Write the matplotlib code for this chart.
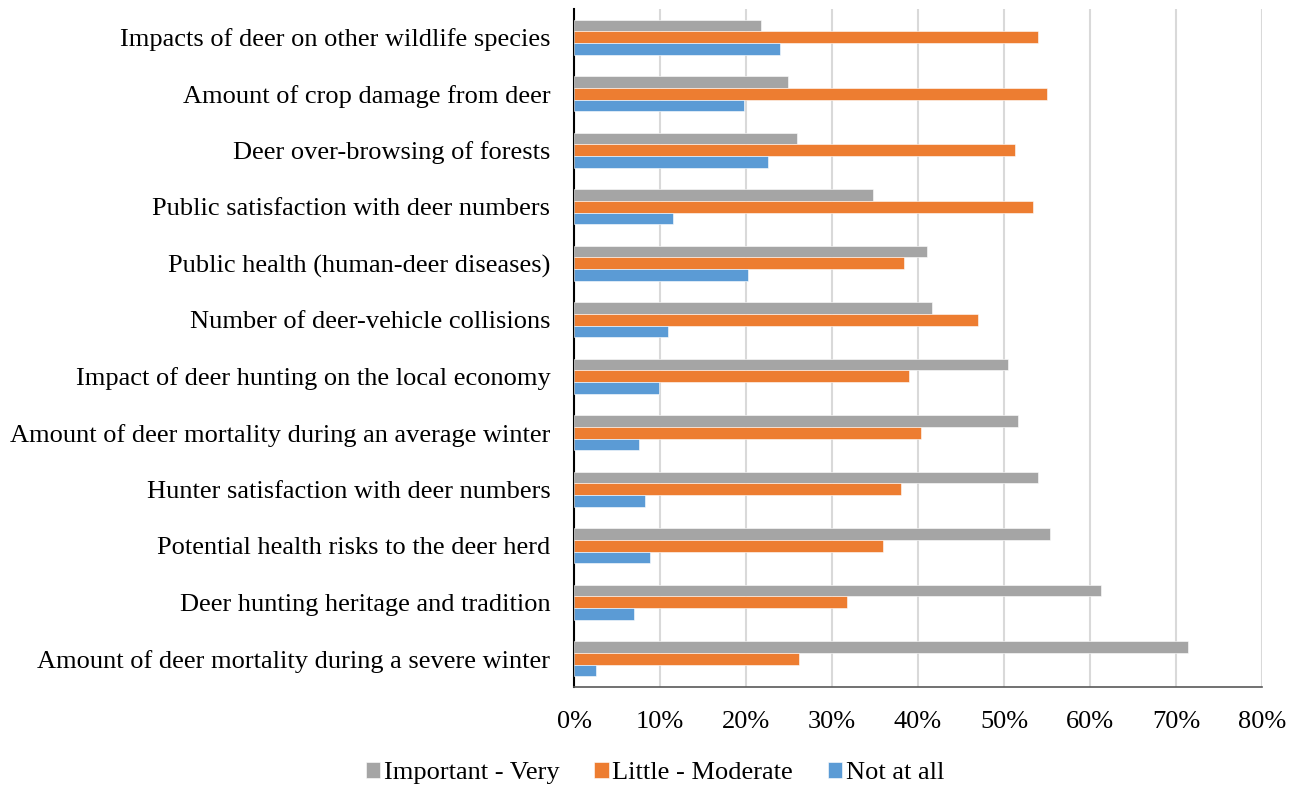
import matplotlib
matplotlib.use("Agg")
import matplotlib.pyplot as plt
import numpy as np
from matplotlib.ticker import FuncFormatter

categories = [
    "Impacts of deer on other wildlife species",
    "Amount of crop damage from deer",
    "Deer over-browsing of forests",
    "Public satisfaction with deer numbers",
    "Public health (human-deer diseases)",
    "Number of deer-vehicle collisions",
    "Impact of deer hunting on the local economy",
    "Amount of deer mortality during an average winter",
    "Hunter satisfaction with deer numbers",
    "Potential health risks to the deer herd",
    "Deer hunting heritage and tradition",
    "Amount of deer mortality during a severe winter",
]
important_very = [21.8, 24.9, 25.9, 34.8, 41.1, 41.6, 50.5, 51.6, 54.0, 55.4, 61.3, 71.4]
little_moderate = [54.0, 55.0, 51.3, 53.4, 38.4, 47.0, 39.0, 40.4, 38.0, 35.9, 31.8, 26.2]
not_at_all = [23.9, 19.8, 22.5, 11.5, 20.2, 10.9, 9.9, 7.6, 8.3, 8.8, 7.0, 2.5]
series_names = ["Important - Very", "Little - Moderate", "Not at all"]
colors = ["#A5A5A5", "#ED7D31", "#5B9BD5"]
xticks = [0, 10, 20, 30, 40, 50, 60, 70, 80]

plt.rcParams['font.family'] = ['Liberation Serif', 'DejaVu Serif']
FS = 19

fig = plt.figure(figsize=(12.94, 7.87), dpi=100)
ax = fig.add_axes([574/1294, 1-687/787, (1262-574)/1294, (687-9)/787])

n = len(categories)
y = np.arange(n)[::-1]  # first category at top
h = 0.205
data = [important_very, little_moderate, not_at_all]
offsets = [h, 0, -h]
for vals, c, off, name in zip(data, colors, offsets, series_names):
    ax.barh(y + off, vals, height=h, color=c, label=name, zorder=3,
            edgecolor='white', linewidth=0.4)

ax.set_xlim(0, 80)
ax.set_ylim(-0.5, n - 0.5)
ax.set_xticks(xticks)
ax.xaxis.set_major_formatter(FuncFormatter(lambda v, p: f"{int(v)}%"))
ax.set_yticks(y)
ax.set_yticklabels(categories)
ax.tick_params(axis='y', length=0, pad=17, labelsize=FS)
ax.tick_params(axis='x', length=0, pad=17, labelsize=FS)
ax.grid(axis='x', color='#D9D9D9', linewidth=1.5, zorder=0)
ax.set_axisbelow(True)
for s in ['top', 'right']:
    ax.spines[s].set_visible(False)
ax.spines['left'].set_color('black')
ax.spines['left'].set_linewidth(1.5)
ax.spines['bottom'].set_color('#595959')
ax.spines['bottom'].set_linewidth(1.2)

handles, labels = ax.get_legend_handles_labels()
fig.legend(handles, labels, loc='center', bbox_to_anchor=(655/1294, 1-773/787),
           ncol=3, frameon=False, fontsize=FS, handlelength=0.55, handleheight=0.55,
           handletextpad=0.15, columnspacing=1.3)

fig.savefig("out.png", dpi=100)
